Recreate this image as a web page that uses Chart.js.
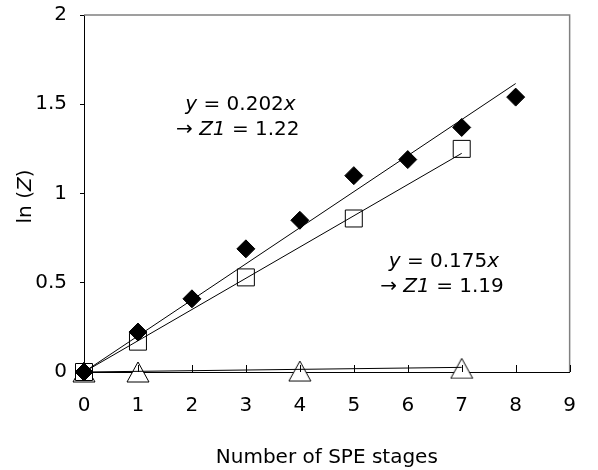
<!DOCTYPE html>
<html>
<head>
<meta charset="utf-8">
<script src="https://cdn.jsdelivr.net/npm/chart.js@4.4.1/dist/chart.umd.min.js"></script>
<style>
  html, body { margin: 0; padding: 0; background: #fff; }
  #wrap { width: 598px; height: 470px; position: relative; }
</style>
</head>
<body>
<div id="wrap"><canvas id="chart"></canvas></div>
<script>
// values
const diamondStages = [0, 1, 2, 3, 4, 5, 6, 7, 8];
const diamondVals = [0, 0.224, 0.41, 0.69, 0.85, 1.10, 1.19, 1.37, 1.54];
const squareStages = [0, 1, 3, 5, 7];
const squareVals = [0, 0.17, 0.53, 0.86, 1.25];
const triangleStages = [0, 1, 4, 7];
const triangleVals = [0, 0, 0.005, 0.02];

// fitted lines through the origin (end points from the picture)
const fitDiamondX = [0, 8];
const fitDiamondY = [0, 1.616];
const fitSquareX = [0, 7];
const fitSquareY = [0, 1.225];
const fitTriangleX = [0, 7];
const fitTriangleY = [0, 0.026];

const xTickLabels = ['0', '1', '2', '3', '4', '5', '6', '7', '8', '9'];
const yTickLabels = ['0', '0.5', '1', '1.5', '2'];

const FONT = '"DejaVu Sans", sans-serif';

function toPoints(xs, ys) {
  return xs.map((x, i) => ({ x: x, y: ys[i] }));
}

// open triangle marker centred on its box (like the spreadsheet one)
function makeTriangle(w, h) {
  const c = document.createElement('canvas');
  c.width = w + 2;
  c.height = h + 2;
  const g = c.getContext('2d');
  g.beginPath();
  g.moveTo(c.width / 2, 1);
  g.lineTo(w + 1, h + 1);
  g.lineTo(1, h + 1);
  g.closePath();
  g.fillStyle = '#fff';
  g.fill();
  g.strokeStyle = '#000';
  g.lineWidth = 1;
  g.stroke();
  return c;
}

// text with some italic pieces, centred on (cx, cy)
function drawRich(ctx, parts, cx, cy) {
  let total = 0;
  const widths = parts.map(p => {
    ctx.font = (p.it ? 'italic ' : '') + '20px ' + FONT;
    const w = ctx.measureText(p.t).width;
    total += w;
    return w;
  });
  let x = cx - total / 2;
  ctx.textAlign = 'left';
  ctx.textBaseline = 'middle';
  ctx.fillStyle = '#000';
  parts.forEach((p, i) => {
    ctx.font = (p.it ? 'italic ' : '') + '20px ' + FONT;
    ctx.fillText(p.t, x, cy);
    x += widths[i];
  });
}

const notes = [
  { x: 2.9, y: 1.496, parts: [{ t: 'y', it: true }, { t: ' = 0.202' }, { t: 'x', it: true }] },
  { x: 2.85, y: 1.356, parts: [{ t: '\u2192 ' }, { t: 'Z1', it: true }, { t: ' = 1.22' }] },
  { x: 6.67, y: 0.616, parts: [{ t: 'y', it: true }, { t: ' = 0.175' }, { t: 'x', it: true }] },
  { x: 6.635, y: 0.476, parts: [{ t: '\u2192 ' }, { t: 'Z1', it: true }, { t: ' = 1.19' }] }
];

const extras = {
  id: 'extras',
  afterDraw(chart) {
    const ctx = chart.ctx;
    const xs = chart.scales.x;
    const ys = chart.scales.y;
    const area = chart.chartArea;
    ctx.save();
    // top and right frame in grey
    ctx.strokeStyle = '#808080';
    ctx.lineWidth = 1.5;
    ctx.beginPath();
    ctx.moveTo(area.left, area.top);
    ctx.lineTo(area.right, area.top);
    ctx.lineTo(area.right, area.bottom);
    ctx.stroke();
    // x ticks pointing inwards
    ctx.strokeStyle = '#000';
    ctx.lineWidth = 1;
    xTickLabels.forEach((lab, i) => {
      const px = Math.round(xs.getPixelForValue(i)) + 0.5;
      ctx.beginPath();
      ctx.moveTo(px, area.bottom);
      ctx.lineTo(px, area.bottom - 7);
      ctx.stroke();
    });
    // annotations
    notes.forEach(n => {
      drawRich(ctx, n.parts, xs.getPixelForValue(n.x), ys.getPixelForValue(n.y));
    });
    // y axis title
    ctx.translate(26, (area.top + area.bottom) / 2 + 3);
    ctx.rotate(-Math.PI / 2);
    drawRich(ctx, [{ t: 'ln (' }, { t: 'Z', it: true }, { t: ')' }], 0, 0);
    ctx.restore();
  }
};

new Chart(document.getElementById('chart'), {
  type: 'scatter',
  data: {
    datasets: [
      { data: toPoints(fitDiamondX, fitDiamondY), showLine: true, pointRadius: 0, borderColor: '#000', borderWidth: 1, order: 0 },
      { data: toPoints(fitSquareX, fitSquareY), showLine: true, pointRadius: 0, borderColor: '#000', borderWidth: 1, order: 0 },
      { data: toPoints(fitTriangleX, fitTriangleY), showLine: true, pointRadius: 0, borderColor: '#000', borderWidth: 1, order: 0 },
      { data: toPoints(diamondStages, diamondVals), pointStyle: 'rectRot', pointRadius: 9, backgroundColor: '#000', borderColor: '#000', borderWidth: 1, order: 1 },
      { data: toPoints(squareStages, squareVals), pointStyle: 'rect', pointRadius: 12, backgroundColor: '#fff', borderColor: '#000', borderWidth: 1, order: 2 },
      { data: toPoints(triangleStages, triangleVals), pointStyle: makeTriangle(22, 20), pointRadius: 11, order: 3 }
    ]
  },
  options: {
    responsive: true,
    maintainAspectRatio: false,
    animation: false,
    clip: false,
    layout: { padding: { top: 15, right: 6, left: 0, bottom: 0 } },
    plugins: { legend: { display: false }, tooltip: { enabled: false } },
    scales: {
      x: {
        type: 'linear',
        min: 0, max: 9,
        afterFit: (s) => { s.height = 98; },
        ticks: {
          stepSize: 1,
          padding: 22,
          color: '#000',
          font: { family: FONT, size: 20 },
          callback: (v, i) => xTickLabels[i]
        },
        grid: { display: true, drawOnChartArea: false, drawTicks: false },
        border: { display: true, color: '#000', width: 1 },
        title: {
          display: true,
          text: 'Number of SPE stages',
          color: '#000',
          font: { family: FONT, size: 20 },
          padding: { top: 0, bottom: 0 }
        }
      },
      y: {
        min: 0, max: 2,
        afterFit: (s) => { s.width = 84; s.paddingTop = 0; s.paddingBottom = 0; },
        ticks: {
          stepSize: 0.5,
          padding: 13,
          color: '#000',
          font: { family: FONT, size: 20 },
          callback: (v, i) => yTickLabels[i]
        },
        grid: { display: true, drawOnChartArea: false, drawTicks: true, tickLength: 4, color: '#000' },
        border: { display: true, color: '#000', width: 1 }
      }
    }
  },
  plugins: [extras]
});
</script>
</body>
</html>
